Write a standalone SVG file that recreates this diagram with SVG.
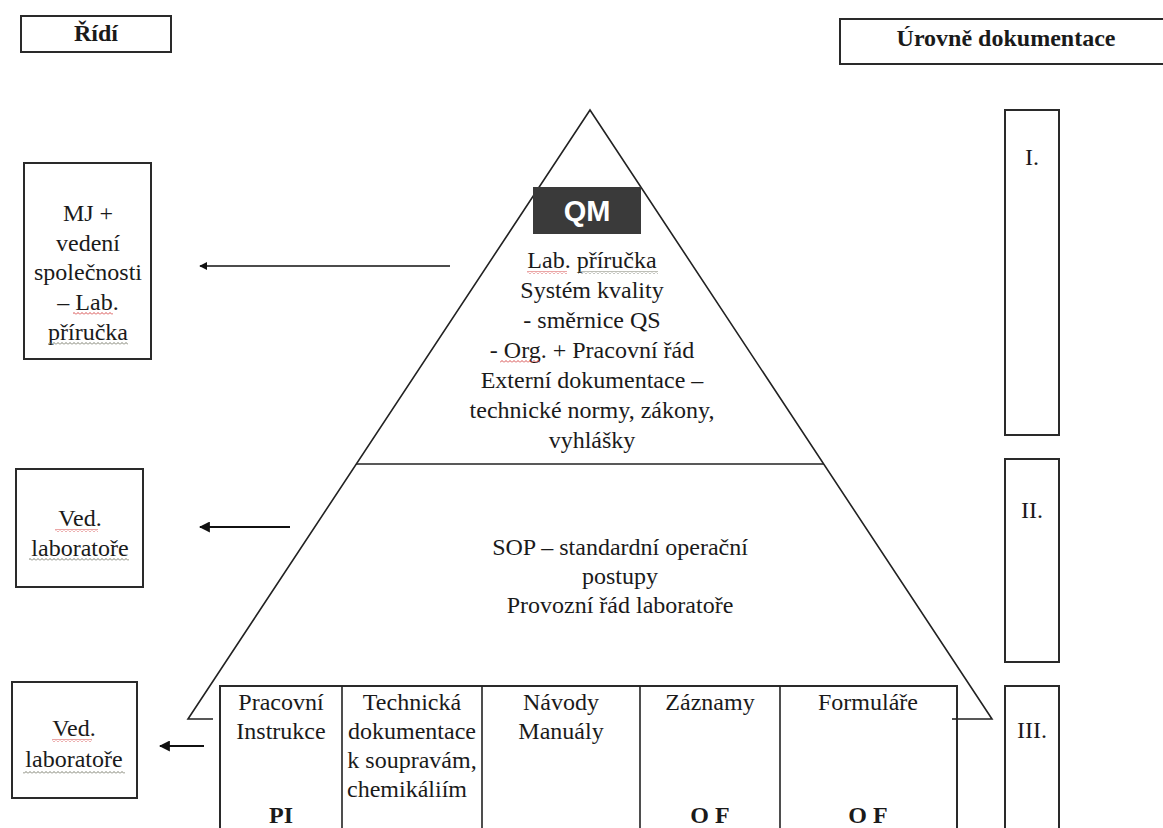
<svg xmlns="http://www.w3.org/2000/svg" width="1163" height="828" viewBox="0 0 1163 828">
  <style>
    .t { font-family: "Liberation Serif", "Times New Roman", serif; font-size: 24px; fill: #1a1a1a; text-anchor: middle; }
    .b { font-weight: bold; }
    .box { fill: #ffffff; stroke: #2a2a2a; stroke-width: 2; }
    .ln { fill: none; stroke: #222222; stroke-width: 1.6; }
    .arr { stroke: #111111; fill: none; }
    .qm { font-family: "Liberation Sans", Arial, sans-serif; font-size: 29px; font-weight: bold; fill: #ffffff; text-anchor: middle; }
  </style>
  <defs>
    <marker id="ah" viewBox="0 0 10 10" refX="9" refY="5" markerWidth="5" markerHeight="5" orient="auto-start-reverse" markerUnits="strokeWidth">
      <path d="M0,0 L10,5 L0,10 z" fill="#111111"/>
    </marker>
    <pattern id="wr" x="0" y="0" width="4" height="3" patternUnits="userSpaceOnUse">
      <path d="M0,2.5 L2,0.5 L4,2.5" fill="none" stroke="#d23a3a" stroke-width="0.9"/>
    </pattern>
    <pattern id="wg" x="0" y="0" width="4" height="3" patternUnits="userSpaceOnUse">
      <path d="M0,2.5 L2,0.5 L4,2.5" fill="none" stroke="#6e7060" stroke-width="0.9"/>
    </pattern>
  </defs>
  <rect width="1163" height="828" fill="#ffffff"/>

  <!-- Pyramid -->
  <g id="pyramid">
    <polyline class="ln" points="213,719 188,719 590,110 992,719 952,719"/>
    <line class="ln" x1="356" y1="464" x2="824" y2="464"/>
  </g>

  <!-- Level I content -->
  <g id="qm-level">
    <rect x="533" y="187" width="108" height="47" fill="#3a3a3a"/>
    <text class="qm" x="587" y="221">QM</text>
    <text class="t" x="592" y="268">Lab. příručka</text>
    <text class="t" x="592" y="298">Systém kvality</text>
    <text class="t" x="592" y="328">- směrnice QS</text>
    <text class="t" x="592" y="358">- Org. + Pracovní řád</text>
    <text class="t" x="592" y="388">Externí dokumentace –</text>
    <text class="t" x="592" y="418">technické normy, zákony,</text>
    <text class="t" x="592" y="448">vyhlášky</text>
    <rect x="527" y="271" width="40" height="3" fill="url(#wr)"/>
    <rect x="578" y="271" width="80" height="3" fill="url(#wg)"/>
    <rect x="500" y="360" width="40" height="3" fill="url(#wr)"/>
  </g>

  <!-- Level II content -->
  <g id="sop-level">
    <text class="t" x="620" y="555">SOP – standardní operační</text>
    <text class="t" x="620" y="584">postupy</text>
    <text class="t" x="620" y="613">Provozní řád laboratoře</text>
  </g>

  <!-- Level III table -->
  <g id="table">
    <rect x="220" y="686" width="737" height="150" fill="#ffffff" stroke="#2a2a2a" stroke-width="2"/>
    <line class="ln" x1="342" y1="686" x2="342" y2="830"/>
    <line class="ln" x1="482" y1="686" x2="482" y2="830"/>
    <line class="ln" x1="640" y1="686" x2="640" y2="830"/>
    <line class="ln" x1="780" y1="686" x2="780" y2="830"/>
    <line class="ln" x1="952" y1="719" x2="957" y2="719"/>
    <text class="t" x="281" y="710">Pracovní</text>
    <text class="t" x="281" y="739">Instrukce</text>
    <text class="t b" x="281" y="823">PI</text>
    <text class="t" x="412" y="710">Technická</text>
    <text class="t" x="412" y="739">dokumentace</text>
    <text class="t" x="412" y="768">k soupravám,</text>
    <text class="t" x="347" y="797" style="text-anchor:start">chemikáliím</text>
    <text class="t" x="561" y="710">Návody</text>
    <text class="t" x="561" y="739">Manuály</text>
    <text class="t" x="710" y="710">Záznamy</text>
    <text class="t b" x="710" y="823">O F</text>
    <text class="t" x="868" y="710">Formuláře</text>
    <text class="t b" x="868" y="823">O F</text>
  </g>

  <!-- Left column -->
  <g id="ridi">
    <rect class="box" x="21" y="16" width="150" height="36"/>
    <text class="t b" x="96" y="41">Řídí</text>
  </g>
  <g id="mj-box">
    <rect class="box" x="24" y="163" width="127" height="196"/>
    <text class="t" x="88" y="221">MJ +</text>
    <text class="t" x="88" y="251">vedení</text>
    <text class="t" x="88" y="280">společnosti</text>
    <text class="t" x="88" y="310">– Lab.</text>
    <text class="t" x="88" y="340">příručka</text>
    <rect x="73" y="312" width="40" height="3" fill="url(#wr)"/>
    <rect x="48" y="342" width="80" height="3" fill="url(#wg)"/>
  </g>
  <g id="ved-lab-2">
    <rect class="box" x="16" y="469" width="127" height="118"/>
    <text class="t" x="80" y="526">Ved.</text>
    <text class="t" x="80" y="556">laboratoře</text>
    <rect x="55" y="529" width="43" height="3" fill="url(#wr)"/>
    <rect x="29" y="558" width="100" height="3" fill="url(#wg)"/>
  </g>
  <g id="ved-lab-3">
    <rect class="box" x="12" y="682" width="125" height="116"/>
    <text class="t" x="74" y="736">Ved.</text>
    <text class="t" x="74" y="767">laboratoře</text>
    <rect x="52" y="739" width="40" height="3" fill="url(#wr)"/>
    <rect x="23" y="771" width="102" height="3" fill="url(#wg)"/>
  </g>

  <!-- Right column -->
  <g id="urovne">
    <rect class="box" x="840" y="19" width="330" height="45"/>
    <text class="t b" x="1006" y="46">Úrovně dokumentace</text>
  </g>
  <g id="level-1">
    <rect class="box" x="1005" y="110" width="54" height="325"/>
    <text class="t" x="1032" y="165">I.</text>
  </g>
  <g id="level-2">
    <rect class="box" x="1005" y="459" width="54" height="203"/>
    <text class="t" x="1032" y="518">II.</text>
  </g>
  <g id="level-3">
    <rect class="box" x="1005" y="686" width="54" height="150"/>
    <text class="t" x="1032" y="738">III.</text>
  </g>

  <!-- Connectors -->
  <g id="connectors">
    <line class="arr" x1="450" y1="266" x2="200" y2="266" stroke-width="1.6" marker-end="url(#ah)"/>
    <line class="arr" x1="290" y1="527" x2="200" y2="527" stroke-width="2.2" marker-end="url(#ah)"/>
    <line class="arr" x1="204" y1="746" x2="160" y2="746" stroke-width="2.2" marker-end="url(#ah)"/>
  </g>
</svg>
